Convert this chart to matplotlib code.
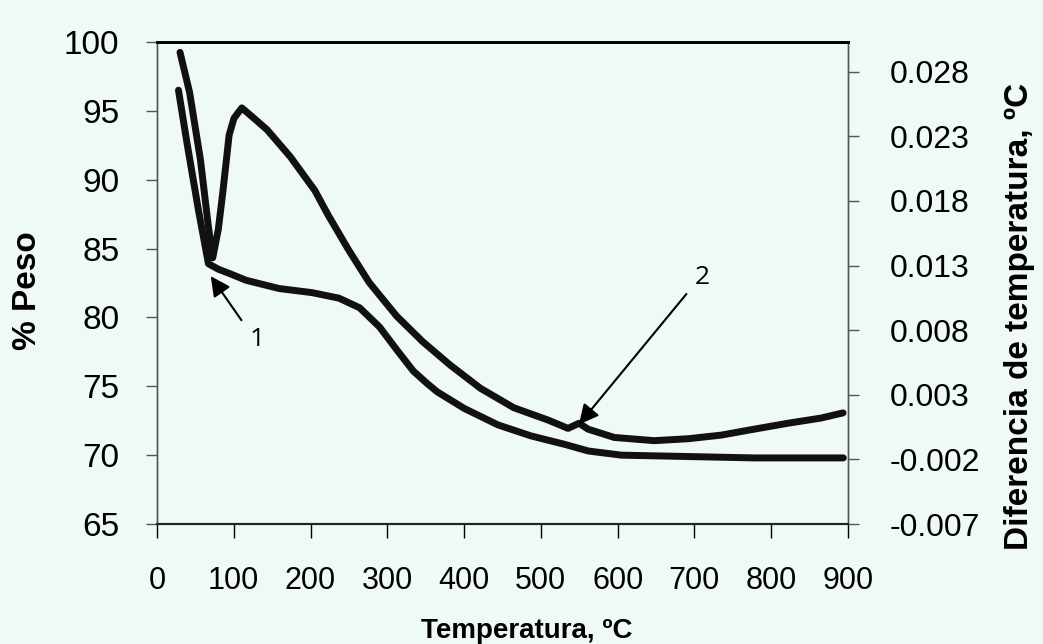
import numpy as np
import matplotlib.pyplot as plt

plt.rcParams['font.family'] = ['Liberation Sans', 'DejaVu Sans']
plt.rcParams['axes.unicode_minus'] = False

# curva de peso (eje izquierdo)
temp_tga = [28, 39, 54, 67, 80, 94, 116, 159, 202, 237, 264, 290, 313, 334,
            352, 365, 400, 444, 487, 530, 562, 605, 692, 778, 894]
peso = [96.5, 92.7, 87.8, 83.9, 83.5, 83.2, 82.7, 82.1, 81.8, 81.4, 80.7, 79.3,
        77.6, 76.1, 75.2, 74.6, 73.4, 72.2, 71.4, 70.8, 70.3, 70.0, 69.9, 69.8,
        69.8]

# diferencia de temperatura (eje derecho)
temp_dta = [30, 42.5, 56.6, 66.8, 72.6, 79.9, 85.8, 94.0, 100.3, 110.5, 126.3,
            143.6, 173.9, 205.7, 223.0, 249.7, 276.3, 312.0, 346.3, 381.9,
            421.4, 464.7, 509.2, 535.4, 549.7, 561.5, 595.5, 647.7, 692.0,
            734.9, 777.8, 822.0, 865.0, 893.6]
dif_temp = [0.0295, 0.0264, 0.0212, 0.0161, 0.0136, 0.0158, 0.0187, 0.0231,
            0.0244, 0.0252, 0.0244, 0.0235, 0.0214, 0.0188, 0.0169, 0.0142,
            0.0117, 0.0091, 0.0071, 0.0053, 0.0035, 0.0020, 0.00105, 0.0004,
            0.0008, 0.00034, -0.0003, -0.00055, -0.0004, -0.00012, 0.00034,
            0.0008, 0.0012, 0.0016]

x_ticks = list(range(0, 901, 100))
peso_ticks = list(range(65, 101, 5))
dta_ticks = [-0.007, -0.002, 0.003, 0.008, 0.013, 0.018, 0.023, 0.028]

# flechas: punta, cola, posicion del numero
flecha1 = ((70, 83.0), (110, 79.8), (130, 78.4))
flecha2 = ((549.6, 0.0007), (689.6, 0.0108), (710, 0.0121))

bg = '#eff9f6'
fig = plt.figure(figsize=(10.43, 6.44), dpi=100, facecolor=bg)
ax = fig.add_axes([0.1505, 0.1863, 0.6625, 0.7485])
ax.set_facecolor(bg)
ax2 = ax.twinx()

ax.plot(temp_tga, peso, color='#111111', lw=5, solid_capstyle='round',
        solid_joinstyle='round')
ax2.plot(temp_dta, dif_temp, color='#111111', lw=5, solid_capstyle='round',
         solid_joinstyle='round')

ax.set_xlim(0, 900)
ax.set_ylim(65, 100)
ax2.set_ylim(-0.007, 0.0303)

ax.set_xticks(x_ticks)
ax.set_xticklabels([str(t) for t in x_ticks])
ax.set_yticks(peso_ticks)
ax.set_yticklabels([str(t) for t in peso_ticks])
ax2.set_yticks(dta_ticks)
ax2.set_yticklabels(['%.3f' % t for t in dta_ticks])

ax.tick_params(axis='x', direction='out', length=10, width=1, labelsize=22, pad=20)
ax.tick_params(axis='y', direction='out', length=8, width=1, labelsize=24, pad=19,
               color='#555555')
ax2.tick_params(axis='y', direction='out', length=8, width=1, labelsize=23, pad=22,
                color='#555555')

for a in (ax, ax2):
    a.spines['top'].set_linewidth(2)
    a.spines['top'].set_color('black')
    a.spines['bottom'].set_linewidth(1.5)
    a.spines['bottom'].set_color('#222222')
    a.spines['left'].set_linewidth(1)
    a.spines['left'].set_color('#555555')
    a.spines['right'].set_linewidth(1)
    a.spines['right'].set_color('#555555')

ax.set_xlabel('Temperatura, ºC', fontsize=20, fontweight='bold')
ax.xaxis.set_label_coords(0.535, -0.195)
ax.set_ylabel('% Peso', fontsize=24, fontweight='bold')
ax.yaxis.set_label_coords(-0.165, 0.485)
ax2.set_ylabel('Diferencia de temperatura, ºC', fontsize=24, fontweight='bold')
ax2.yaxis.set_label_coords(1.226, 0.43)

flecha = dict(arrowstyle='-|>,head_length=0.6,head_width=0.3', color='black',
              lw=1.5, shrinkA=0, shrinkB=0, mutation_scale=20)
for a, (punta, cola, num), etiqueta in ((ax, flecha1, '1'), (ax2, flecha2, '2')):
    a.annotate('', xy=punta, xytext=cola, arrowprops=flecha)
    a.text(num[0], num[1], etiqueta, fontsize=19, ha='center', va='center',
           family=['Open Sans', 'DejaVu Sans'])

fig.savefig('out.png', dpi=100, facecolor=bg)
